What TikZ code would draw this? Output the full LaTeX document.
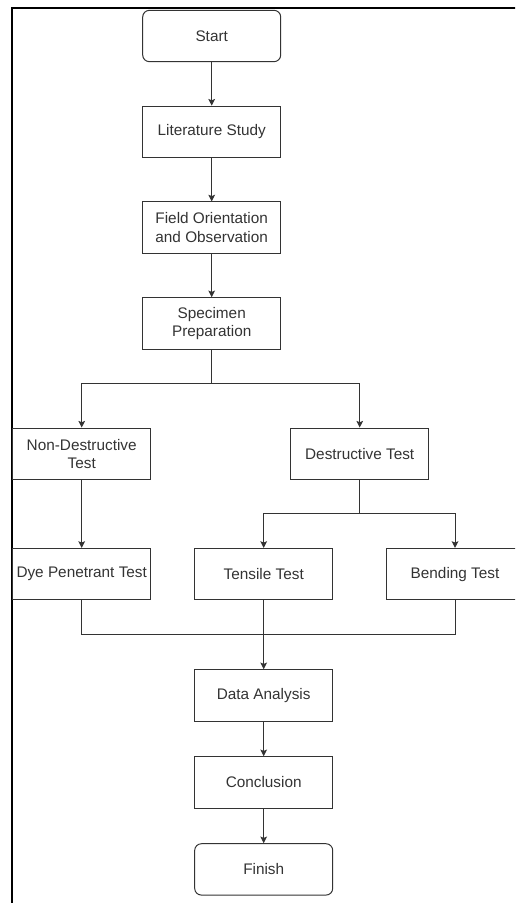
\documentclass[tikz,border=0pt]{standalone}
\usepackage{fontspec}
\setmainfont{Liberation Sans}
\usepackage{tikz}
\usetikzlibrary{arrows.meta, positioning}

\definecolor{inkgray}{HTML}{333333}

\begin{document}
\begin{tikzpicture}[
  x=0.75pt, y=-0.75pt,
  node distance=32.6pt,
  stepbox/.style={rectangle, draw=inkgray, line width=0.75pt,
             minimum width=103.5pt, minimum height=38.5pt, align=center,
             inner sep=2pt, text=inkgray, font=\fontsize{11.5}{13.75}\selectfont},
  termbox/.style={stepbox, rounded corners=5pt},
  link/.style={draw=inkgray, line width=0.75pt},
  arrow/.style={link, -{Stealth[length=5pt, width=5pt, inset=1pt]}}
]
\useasboundingbox (0,0) rectangle (515,903);
\clip (0,0) rectangle (515,903);

% outer frame (cropped)
\draw[line width=1.4pt, black] (11.8,910) -- (11.8,8.3) -- (520,8.3);

\node[termbox] (start) at (211.7,36) {Start};
\node[stepbox, below=of start] (lit) {Literature Study};
\node[stepbox, below=of lit] (field) {Field Orientation\\and Observation};
\node[stepbox, below=of field] (spec) {Specimen\\Preparation};

\node[stepbox, below=58.5pt of spec, xshift=-97.5pt] (ndt) {Non-Destructive\\Test};
\node[stepbox, below=58.5pt of spec, xshift=111pt] (dest) {Destructive Test};

\node[stepbox, below=51pt of ndt] (dye) {Dye Penetrant Test};
\node[stepbox, below=51pt of dest, xshift=-72pt] (tensile) {Tensile Test};
\node[stepbox, below=51pt of dest, xshift=71.5pt] (bend) {Bending Test};

\node[stepbox, below=51.75pt of tensile] (data) {Data Analysis};
\node[stepbox, below=26pt of data] (concl) {Conclusion};
\node[termbox, below=26pt of concl] (finish) {Finish};

\coordinate (split1) at ([yshift=-25.5pt]spec.south);
\coordinate (split2) at ([yshift=-25.5pt]dest.south);
\coordinate (join) at ([yshift=-25.5pt]tensile.south);

\draw[arrow] (start) -- (lit);
\draw[arrow] (lit) -- (field);
\draw[arrow] (field) -- (spec);
\draw[arrow] (spec.south) -- (split1) -| (ndt.north);
\draw[arrow] (split1) -| (dest.north);
\draw[arrow] (ndt) -- (dye);
\draw[arrow] (dest.south) -- (split2) -| (tensile.north);
\draw[arrow] (split2) -| (bend.north);
\draw[link] (dye.south) |- (join) -| (bend.south);
\draw[arrow] (tensile.south) -- (data.north);
\draw[arrow] (data) -- (concl);
\draw[arrow] (concl) -- (finish);

\end{tikzpicture}
\end{document}
